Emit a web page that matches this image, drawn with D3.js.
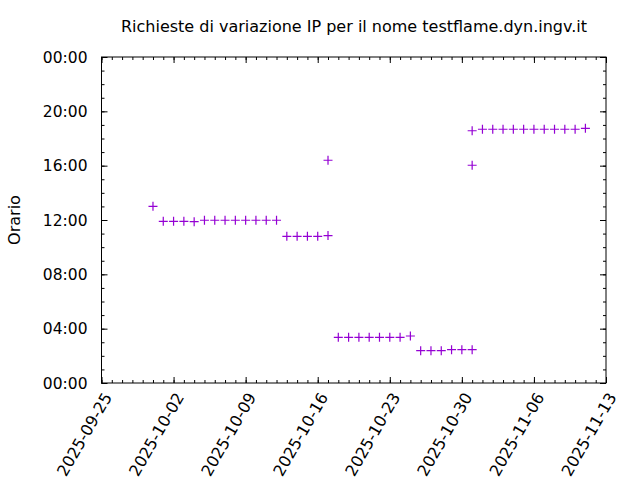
<!DOCTYPE html>
<html><head><meta charset="utf-8">
<script src="https://cdn.jsdelivr.net/npm/d3@7"></script>
<style>
body{margin:0;background:#fff;}
svg{display:block;font-family:"DejaVu Sans",sans-serif;}
</style></head>
<body><svg id="c" width="640" height="480"></svg>
<script>
const title = "Richieste di variazione IP per il nome testflame.dyn.ingv.it";
const yLabel = "Orario";
const dates = ["2025-09-30","2025-10-01","2025-10-02","2025-10-03","2025-10-04","2025-10-05","2025-10-06","2025-10-07","2025-10-08","2025-10-09","2025-10-10","2025-10-11","2025-10-12","2025-10-13","2025-10-14","2025-10-15","2025-10-16","2025-10-17","2025-10-17","2025-10-18","2025-10-19","2025-10-20","2025-10-21","2025-10-22","2025-10-23","2025-10-24","2025-10-25","2025-10-26","2025-10-27","2025-10-28","2025-10-29","2025-10-30","2025-10-31","2025-10-31","2025-10-31","2025-11-01","2025-11-02","2025-11-03","2025-11-04","2025-11-05","2025-11-06","2025-11-07","2025-11-08","2025-11-09","2025-11-10","2025-11-11"];
const hours = [13.01,11.9,11.9,11.9,11.88,11.98,11.98,11.98,11.98,11.98,11.98,11.98,11.98,10.8,10.8,10.8,10.8,10.85,16.4,3.36,3.36,3.36,3.36,3.36,3.36,3.36,3.46,2.38,2.38,2.38,2.45,2.45,2.45,18.57,16.03,18.68,18.68,18.68,18.68,18.68,18.68,18.68,18.68,18.68,18.68,18.75];
const xTickLabels = ["2025-09-25","2025-10-02","2025-10-09","2025-10-16","2025-10-23","2025-10-30","2025-11-06","2025-11-13"];
const yTickValues = [0,4,8,12,16,20,24];
const yTickLabels = ["00:00","04:00","08:00","12:00","16:00","20:00","00:00"];

const svg = d3.select("#c");
const L=101.5, R=606, T=57, B=383;
const parse = d3.utcParse("%Y-%m-%d");
const x = d3.scaleUtc().domain([parse(xTickLabels[0]), parse(xTickLabels[xTickLabels.length-1])]).range([L,R]);
const y = d3.scaleLinear().domain([0,24]).range([B,T]);
const color = "#9400d3";

const majorX = xTickLabels.map(parse);
const minorX = d3.utcDay.range(x.domain()[0], d3.utcDay.offset(x.domain()[1],1));
const minorY = d3.range(0,25,1);

function axisG(gen, tx, ty){ const g=svg.append("g").attr("transform",`translate(${tx},${ty})`).call(gen); g.selectAll("text").remove(); g.select(".domain").remove(); g.selectAll("line").attr("stroke","#000").attr("stroke-width",1); return g; }
axisG(d3.axisBottom(x).tickValues(minorX).tickSize(-3),0,B);
axisG(d3.axisBottom(x).tickValues(majorX).tickSize(-6),0,B);
axisG(d3.axisTop(x).tickValues(minorX).tickSize(-3),0,T);
axisG(d3.axisTop(x).tickValues(majorX).tickSize(-6),0,T);
axisG(d3.axisLeft(y).tickValues(minorY).tickSize(-3),L,0);
axisG(d3.axisLeft(y).tickValues(yTickValues).tickSize(-6),L,0);
axisG(d3.axisRight(y).tickValues(minorY).tickSize(-3),R,0);
axisG(d3.axisRight(y).tickValues(yTickValues).tickSize(-6),R,0);

svg.append("rect").attr("x",L).attr("y",T).attr("width",R-L).attr("height",B-T).attr("fill","none").attr("stroke","#000").attr("stroke-width",1);

svg.append("g").selectAll("text").data(yTickValues).join("text")
  .attr("x",L-14).attr("y",d=>y(d)).attr("dy","0.36em").attr("text-anchor","end")
  .attr("font-size",15.5).text((d,i)=>yTickLabels[i]);
svg.append("g").selectAll("text").data(majorX).join("text")
  .attr("transform",d=>`translate(${x(d)+6},${B+11}) rotate(-60)`)
  .attr("text-anchor","end").attr("dy","0.36em").attr("font-size",16)
  .text((d,i)=>xTickLabels[i]);

svg.append("text").attr("x",354).attr("y",32).attr("text-anchor","middle").attr("font-size",16).text(title);
svg.append("text").attr("transform","translate(20,220) rotate(-90)").attr("text-anchor","middle").attr("font-size",16).text(yLabel);

svg.append("g").selectAll("path").data(dates.map((d,i)=>({d:parse(d),h:hours[i]}))).join("path")
  .attr("d",p=>{const cx=x(p.d), cy=y(p.h); return `M${cx-4.5},${cy}H${cx+4.5}M${cx},${cy-4.5}V${cy+4.5}`;})
  .attr("stroke",color).attr("stroke-width",1.2).attr("fill","none");
</script></body></html>
